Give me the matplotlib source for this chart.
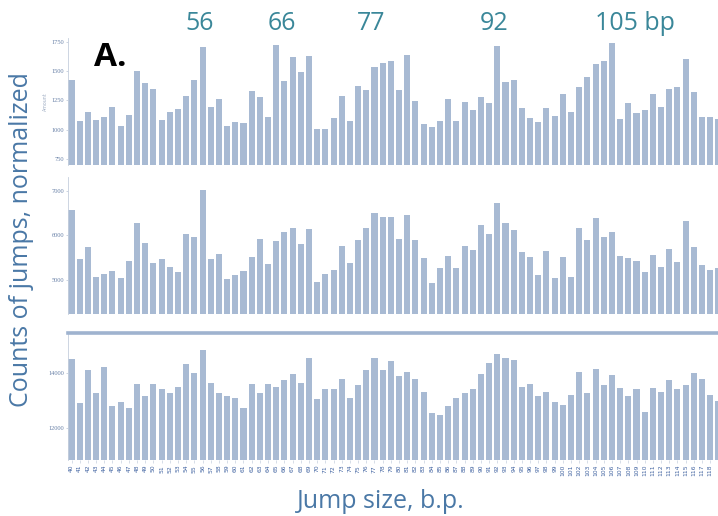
import numpy as np
import matplotlib
matplotlib.use("Agg")
import matplotlib.pyplot as plt

# Jump sizes (bp) shown on the shared x axis
jump_sizes = list(range(40, 120))

# Panel 1 counts
counts_top = [1424, 1077, 1153, 1083, 1106, 1191, 1034, 1123, 1500, 1401,
              1344, 1083, 1153, 1174, 1287, 1424, 1703, 1196, 1259, 1034,
              1068, 1054, 1333, 1281, 1106, 1722, 1415, 1623, 1492, 1631,
              1009, 1009, 1102, 1290, 1071, 1370, 1341, 1537, 1566, 1589,
              1341, 1637, 1245, 1046, 1026, 1077, 1262, 1074, 1239, 1168,
              1279, 1230, 1716, 1404, 1424, 1182, 1102, 1063, 1182, 1117,
              1304, 1148, 1367, 1447, 1560, 1583, 1737, 1089, 1230, 1145,
              1165, 1302, 1191, 1347, 1361, 1600, 1319, 1111, 1111, 1090]

# Panel 2 counts
counts_mid = [6573, 5465, 5749, 5075, 5127, 5210, 5052, 5434, 6273, 5824,
              5389, 5465, 5300, 5172, 6026, 5959, 7022, 5479, 5577, 5022,
              5105, 5202, 5524, 5928, 5360, 5869, 6079, 6161, 5802, 6139,
              4948, 5127, 5225, 5764, 5374, 5899, 6161, 6499, 6423, 6423,
              5921, 6461, 5891, 5487, 4940, 5270, 5547, 5277, 5764, 5674,
              6236, 6041, 6723, 6273, 6124, 5622, 5524, 5112, 5659, 5037,
              5524, 5075, 6176, 5899, 6400, 5959, 6071, 5539, 5487, 5434,
              5187, 5562, 5300, 5689, 5397, 6326, 5749, 5330, 5225, 5277]

# Panel 3 counts
counts_bot = [14482, 12921, 14097, 13259, 14216, 12802, 12935, 12741, 13583, 13162,
              13583, 13403, 13259, 13497, 14302, 13978, 14817, 13640, 13259, 13173,
              13079, 12741, 13583, 13259, 13583, 13497, 13737, 13953, 13619, 14518,
              13043, 13403, 13425, 13762, 13101, 13558, 14097, 14540, 14097, 14432,
              13892, 14014, 13762, 13317, 12540, 12478, 12802, 13079, 13281, 13403,
              13953, 14338, 14673, 14518, 14457, 13497, 13583, 13162, 13317, 12935,
              12838, 13198, 14036, 13281, 14122, 13558, 13917, 13439, 13162, 13414,
              12597, 13439, 13317, 13737, 13403, 13558, 14000, 13773, 13198, 12993]

top_ticks = [750, 1000, 1250, 1500, 1750]
mid_ticks = [5000, 6000, 7000]
bot_ticks = [12000, 14000]

peak_labels = ["56", "66", "77", "92", "105 bp"]
peak_positions = [56, 66, 77, 92, 105]

W, H = 718, 516
BAR = "#a8bad3"
TICKCOL = "#6a82a8"
LABCOL = "#4a78a6"
PEAKCOL = "#3a8799"

fig = plt.figure(figsize=(W / 100, H / 100), dpi=100)
fig.patch.set_facecolor("white")


def add_panel(y_top, y_bot, x_left=68, x_right=718):
    return fig.add_axes([x_left / W, 1 - y_bot / H,
                         (x_right - x_left) / W, (y_bot - y_top) / H])


def style(ax, values, ylim, ticks):
    ax.bar(jump_sizes, values, width=0.74, color=BAR, edgecolor="none")
    ax.set_xlim(39.57, 118.95)
    ax.set_ylim(*ylim)
    ax.set_yticks(ticks)
    ax.set_yticklabels([str(t) for t in ticks], fontsize=4.6,
                       color=TICKCOL, family="Liberation Serif")
    ax.tick_params(axis="y", length=1.5, width=0.5, color="#b8c4d6", pad=1.5)
    for s in ("top", "right", "bottom"):
        ax.spines[s].set_visible(False)
    ax.spines["left"].set_color("#c5cfdd")
    ax.spines["left"].set_linewidth(0.6)


ax1 = add_panel(38, 165)
style(ax1, counts_top, (699, 1782), top_ticks)
ax1.set_xticks([])
ax1.set_ylabel("Amount", fontsize=3.4, color="#a0aec4", labelpad=2)

ax2 = add_panel(177, 314)
style(ax2, counts_mid, (4236, 7314), mid_ticks)
ax2.set_xticks([])

ax3 = add_panel(333, 460)
style(ax3, counts_bot, (10860, 15428), bot_ticks)
ax3.set_xticks(jump_sizes[:-1])
ax3.set_xticklabels([str(v) for v in jump_sizes[:-1]], rotation=90,
                    fontsize=4.3, color="#3f62a0", family="Liberation Sans Narrow")
ax3.tick_params(axis="x", length=2, width=0.4, color="#b8c4d6", pad=1.5)
ax3.spines["top"].set_visible(True)
ax3.spines["top"].set_color("#9fb3cf")
ax3.spines["top"].set_linewidth(2.6)

# Peak annotations above the top panel
for lab, pos in zip(peak_labels, peak_positions):
    x_fig = ax1.transData.transform((pos, 0))[0] / W
    if lab.endswith("bp"):
        fig.text(x_fig - 0.012, 1 - 24 / H, lab, ha="left", va="center",
                 fontsize=18, color=PEAKCOL, family="Open Sans")
    else:
        fig.text(x_fig - 0.004, 1 - 24 / H, lab, ha="center", va="center",
                 fontsize=18, color=PEAKCOL, family="Open Sans")

fig.text(110 / W, 1 - 58 / H, "A.", ha="center", va="center",
         fontsize=24, fontweight="bold", color="black", family="Open Sans")

fig.text(22 / W, 1 - 240 / H, "Counts of jumps, normalized", rotation=90,
         ha="center", va="center", fontsize=18, color=LABCOL, family="Open Sans")
fig.text(381 / W, 1 - 502 / H, "Jump size, b.p.", ha="center", va="center",
         fontsize=18, color=LABCOL, family="Open Sans")

fig.savefig("out.png", dpi=100, facecolor="white")
